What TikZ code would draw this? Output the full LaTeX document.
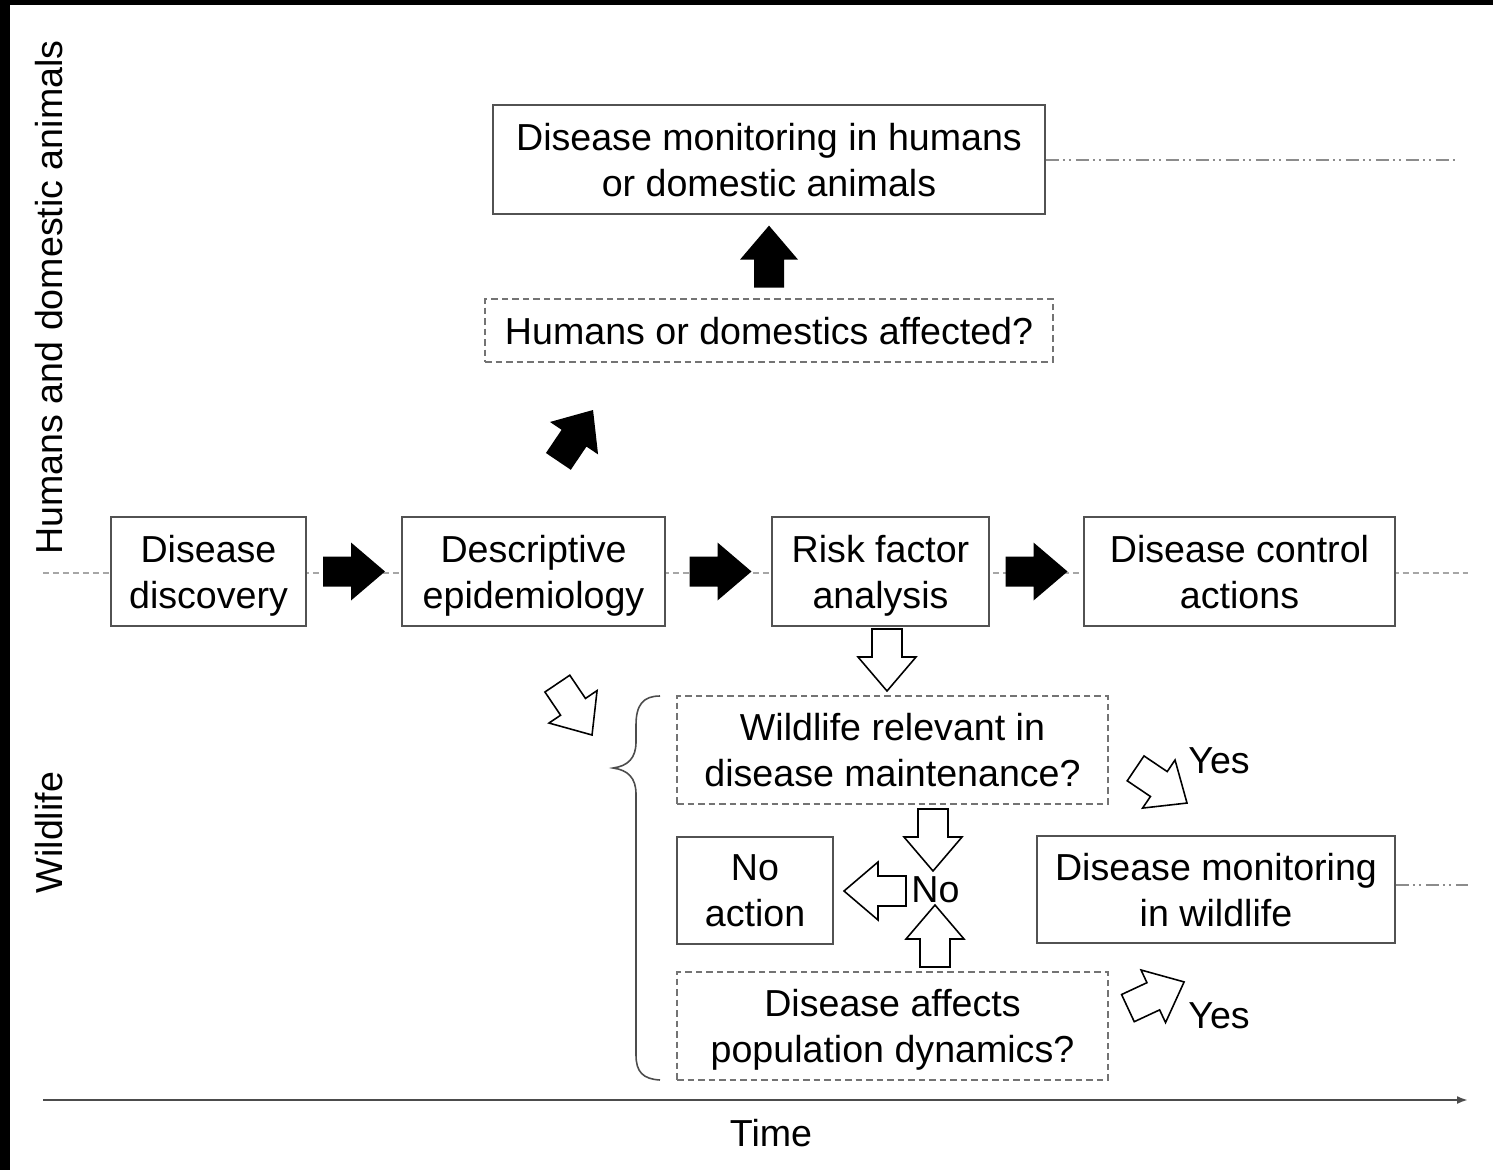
\documentclass[tikz,border=0pt]{standalone}
\usepackage{fontspec}
\setmainfont{Liberation Sans}
\usetikzlibrary{calc,backgrounds,arrows.meta}
\tikzset{
	blockarrow/.pic={\path[pic actions] (-31,-15) -- (-3,-15) -- (-3,-29) -- (31,0) -- (-3,29) -- (-3,15) -- (-31,15) -- cycle;}
}
\begin{document}
\begin{tikzpicture}[x=0.02cm,y=-0.02cm,every node/.style={font=\fontsize{21.4}{26.1}\selectfont,align=center,inner sep=0pt,text depth=0pt},box/.style={draw=black!68,line width=1.1pt,fill=white,minimum height=2.18cm},askbox/.style={draw=black!55,line width=0.8pt,dash pattern=on 0.13cm off 0.08cm,fill=white,minimum height=2.16cm},solid arrow/.style={fill=black},open arrow/.style={draw=black,fill=white,line width=0.9pt,line join=miter}]
			\useasboundingbox (0,0) rectangle (1493,1170);
			\fill[black] (0,0) rectangle (10,1170);
			\fill[black] (0,0) rectangle (1493,5);
			\node[box,minimum width=11.04cm](Mon)      at (769,159.5)  {Disease monitoring in humans\\or domestic animals};
			\node[askbox,minimum width=11.36cm,minimum height=1.26cm](Affected) at (769,330.5) {Humans or domestics affected?};
			\node[box,minimum width=3.9cm](Discovery)  at (208.5,571.5) {Disease\\discovery};
			\node[box,minimum width=5.26cm](Descr)     at (533.5,571.5) {Descriptive\\epidemiology};
			\node[box,minimum width=4.34cm](Risk)      at (880.5,571.5) {Risk factor\\analysis};
			\node[box,minimum width=6.22cm](Control)   at (1239.5,571.5) {Disease control\\actions};
			\node[askbox,minimum width=8.62cm](Relevant) at (892.5,750) {Wildlife relevant in\\disease maintenance?};
			\node[box,minimum width=3.12cm,minimum height=2.14cm](NoAction) at (755,890.5) {No\\action};
			\node[box,minimum width=7.16cm,minimum height=2.14cm](MonWild) at (1216,889.5) {Disease monitoring\\in wildlife};
			\node[askbox,minimum width=8.62cm](Dynamics) at (892.5,1026) {Disease affects\\population dynamics?};
			\node(No) at (935.5,890) {No};
			\node[anchor=base west](YesUp)  at (1188,773)  {Yes};
			\node[anchor=base west](YesLow) at (1188,1028) {Yes};
			\node[rotate=90,anchor=base](Humans) at (62,297.5) {Humans and domestic animals};
			\node[rotate=90,anchor=base](Wild)   at (62,832.5) {Wildlife};
			\node[anchor=base](Time) at (771,1146) {Time};
			\begin{scope}[on background layer]
				\coordinate (LineL) at (43,573);
				\coordinate (LineR) at (1468,573);
				\draw[black!35,line width=1.1pt,dash pattern=on 0.12cm off 0.08cm] (LineL) -- (LineR);
			\end{scope}
			\coordinate (MonEnd)  at (1455,160);
			\coordinate (WildEnd) at (1468,885);
			\draw[black!45,line width=1.1pt,dash pattern=on 0.26cm off 0.08cm on 0.04cm off 0.08cm on 0.04cm off 0.1cm] (Mon.east |- MonEnd) -- (MonEnd);
			\draw[black!45,line width=1.1pt,dash pattern=on 0.26cm off 0.08cm on 0.04cm off 0.08cm on 0.04cm off 0.1cm] (MonWild.east |- WildEnd) -- (WildEnd);
			\coordinate (TimeL) at (43,1100);
			\coordinate (TimeR) at (1468,1100);
			\draw[black!70,line width=1.2pt,-{Latex[length=0.22cm,width=0.16cm]}] (TimeL) -- (TimeR);
			\draw[black!70,line width=0.9pt] (660,696) .. controls (643,696) and (636,705) .. (636,725) -- (636,742) .. controls (636,758) and (628,766) .. (613,768) .. controls (628,770) and (636,778) .. (636,794) -- (636,1055) .. controls (636,1072) and (643,1079) .. (660,1080);
			\pic[solid arrow] at ($(Discovery.east)!.5!(Descr.west)$) {blockarrow};
			\pic[solid arrow] at ($(Descr.east)!.5!(Risk.west)+(2,0)$) {blockarrow};
			\pic[solid arrow] at ($(Risk.east)!.5!(Control.west)$) {blockarrow};
			\pic[solid arrow,rotate=90] at ($(Affected.north)!.5!(Mon.south)$) {blockarrow};
			\pic[solid arrow,rotate=56] at (575.7,435.7) {blockarrow};
			\pic[open arrow,rotate=-56] at (574.7,709.3) {blockarrow};
			\pic[open arrow,rotate=-90] at (887,660) {blockarrow};
			\pic[open arrow,rotate=-90] at (933,840) {blockarrow};
			\pic[open arrow,rotate=180] at (875,891) {blockarrow};
			\pic[open arrow,rotate=90] at (935,936) {blockarrow};
			\pic[open arrow,rotate=-34] at (1161.3,785.7) {blockarrow};
			\pic[open arrow,rotate=25] at (1156,995) {blockarrow};
		\end{tikzpicture}
\end{document}
